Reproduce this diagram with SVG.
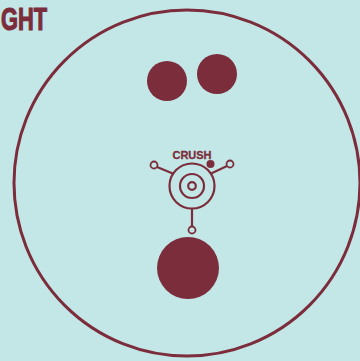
<svg xmlns="http://www.w3.org/2000/svg" width="360" height="361" viewBox="0 0 360 361">
<style>
.ink{fill:#7c2d3b}
.line{fill:none;stroke:#7c2d3b;stroke-width:2.2}
.hole{fill:#c3e7e7;stroke:#7c2d3b;stroke-width:1.8}
.t{font-family:"Liberation Sans",Arial,sans-serif;font-weight:bold;fill:#7c2d3b}
</style>
<rect width="360" height="361" fill="#c3e7e7"/>
<text class="t" x="1" y="30" font-size="31" textLength="46" lengthAdjust="spacingAndGlyphs" stroke="#7c2d3b" stroke-width="1.2">GHT</text>
<g id="ball">
<circle cx="187" cy="183" r="173" fill="none" stroke="#7c2d3b" stroke-width="3"/>
</g>
<g id="finger-left"><circle class="ink" cx="167" cy="81" r="20"/></g>
<g id="finger-right"><circle class="ink" cx="217" cy="74" r="20"/></g>
<g id="thumb"><circle class="ink" cx="188" cy="268" r="31"/></g>
<g id="connectors">
<line class="line" x1="157" y1="167" x2="174" y2="174"/>
<line class="line" x1="227" y1="166" x2="210" y2="174"/>
<line class="line" x1="192" y1="209" x2="192" y2="226"/>
</g>
<g id="crush">
<circle class="line" cx="192" cy="186" r="22.5"/>
<circle class="line" cx="192" cy="186" r="12"/>
<circle class="line" cx="192" cy="186" r="3.8"/>
<circle class="hole" cx="154" cy="165" r="3.5"/>
<circle class="hole" cx="230" cy="164" r="3.5"/>
<circle class="hole" cx="192" cy="230" r="3.5"/>
<circle class="ink" cx="210.5" cy="164" r="4"/>
<text class="t" x="192" y="159" font-size="11" text-anchor="middle" stroke="#7c2d3b" stroke-width="0.3">CRUSH</text>
</g>
</svg>
